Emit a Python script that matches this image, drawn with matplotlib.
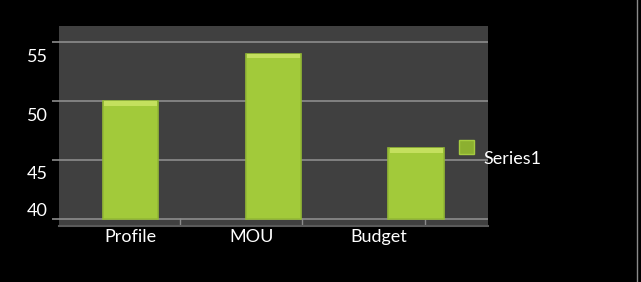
import matplotlib
matplotlib.use("Agg")
import matplotlib.pyplot as plt
import matplotlib.transforms as mtransforms
from matplotlib.patches import Patch

categories = ["Profile", "MOU", "Budget"]
series1 = [50, 54, 46]
y_ticks = [40, 45, 50, 55]
series_name = "Series1"
axis_min = 40

_BG = "black"
_PLOT_BG = "#404040"
_GRID = "#8c8c8c"
_BAR = "#a2ca3a"
_BAR_EDGE = "#93b934"
_BAR_TOP = "#c4e05e"
_TEXT = "white"

plt.rcParams.update({"font.family": ["Lato", "DejaVu Sans"], "font.size": 13})

fig = plt.figure(figsize=(6.41, 2.82), dpi=100, facecolor=_BG)
ax = fig.add_axes([0.092, 0.199, 0.669, 0.709])
ax.set_facecolor(_PLOT_BG)

x = list(range(len(categories)))
heights = [v - axis_min for v in series1]
ax.bar(x, heights, width=0.39, bottom=axis_min, color=_BAR, edgecolor=_BAR_EDGE,
       linewidth=1.2, zorder=3, label=series_name)
# light bevel along the top of each bar
bevel = 0.4
ax.bar(x, [bevel] * len(x), width=0.37, bottom=[v - bevel for v in series1],
       color=_BAR_TOP, linewidth=0, zorder=4)

ax.set_xlim(-0.5, len(categories) - 0.5)
ax.set_ylim(39.45, 56.35)
ax.set_yticks(y_ticks)
ax.set_yticklabels([str(v) for v in y_ticks])
ax.grid(axis="y", color=_GRID, linewidth=1.2, zorder=1)
ax.tick_params(axis="y", colors=_GRID, length=5, width=1.2, pad=3,
               labelcolor=_TEXT, labelsize=13)

# labels in the screenshot sit off their gridlines; nudge them (pixels)
y_shift = [10, -12, -13, -14]
for lab, dy in zip(ax.get_yticklabels(), y_shift):
    lab.set_transform(lab.get_transform() +
                      mtransforms.ScaledTranslation(0, dy / 100, fig.dpi_scale_trans))

ax.set_xticks(x)
ax.set_xticklabels(categories)
ax.tick_params(axis="x", length=0, pad=2, labelcolor=_TEXT, labelsize=13)
x_shift = [0, -22, -38]
for lab, dx in zip(ax.get_xticklabels(), x_shift):
    lab.set_transform(lab.get_transform() +
                      mtransforms.ScaledTranslation(dx / 100, 0, fig.dpi_scale_trans))

ax.set_xticks([0.35, 1.2, 2.06], minor=True)
ax.tick_params(axis="x", which="minor", direction="in", length=6, width=1,
               colors=_GRID)

for side in ["top", "right", "left"]:
    ax.spines[side].set_visible(False)
ax.spines["bottom"].set_color("#5a5a5a")
ax.spines["bottom"].set_linewidth(1.5)

leg = ax.legend(handles=[Patch(facecolor="#8cb030", edgecolor="#a6cc40")],
                labels=[series_name], loc="center left",
                bbox_to_anchor=(0.915, 0.39), frameon=False,
                handlelength=0.85, handleheight=0.85, handletextpad=0.55,
                fontsize=13, borderaxespad=0)
for t in leg.get_texts():
    t.set_color(_TEXT)
    t.set_transform(t.get_transform() +
                    mtransforms.ScaledTranslation(0, -11 / 100, fig.dpi_scale_trans))

fig.add_artist(plt.Line2D([0.993, 0.993], [0.0, 1.0], color="#8a8a8a",
                          linewidth=1, transform=fig.transFigure))

fig.savefig("out.png", dpi=100, facecolor=_BG)
